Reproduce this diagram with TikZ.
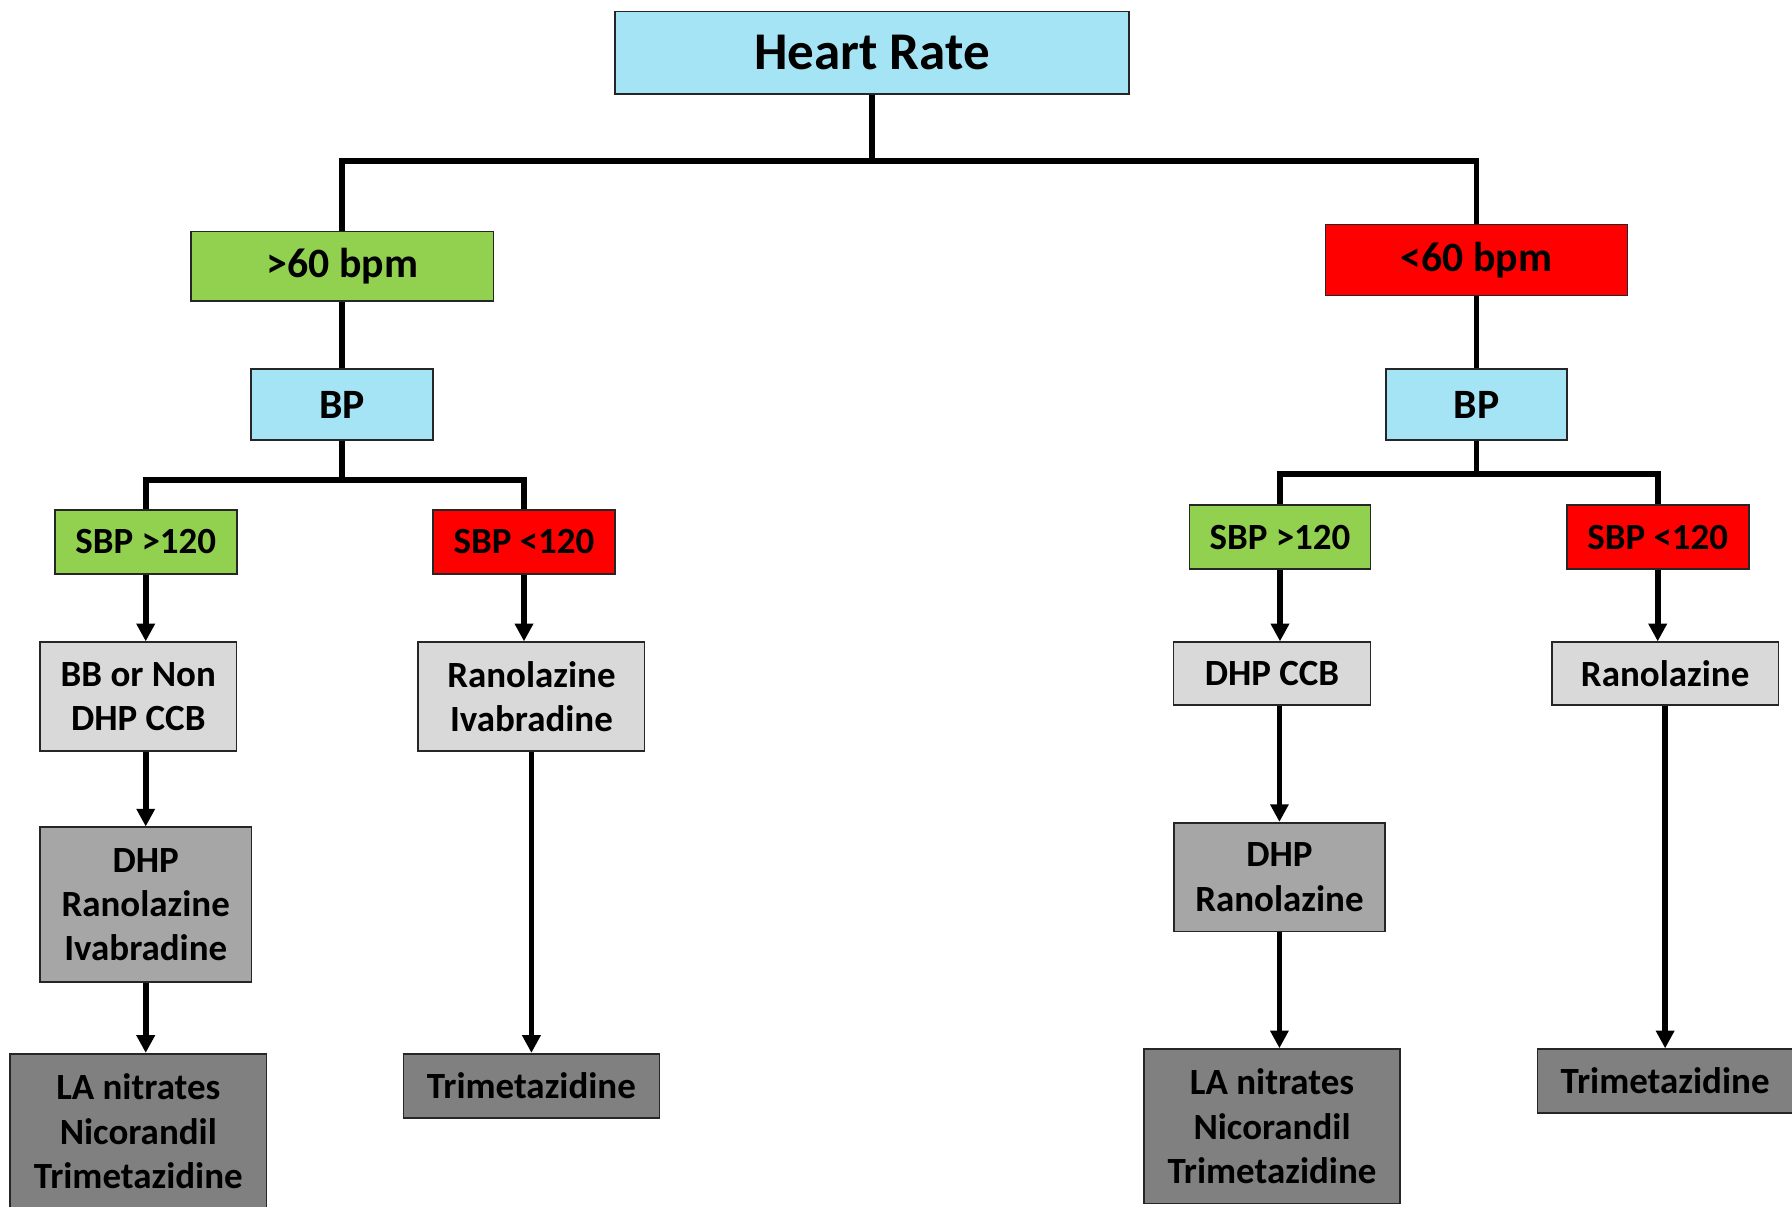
\documentclass[tikz,border=0pt]{standalone}
\usepackage{fontspec}
\setmainfont{Carlito}
\usetikzlibrary{arrows.meta}

\definecolor{azul}{RGB}{165,228,245}
\definecolor{verde}{RGB}{146,208,80}
\definecolor{vermelho}{RGB}{255,0,0}
\definecolor{cinza1}{RGB}{217,217,217}
\definecolor{cinza2}{RGB}{166,166,166}
\definecolor{cinza3}{RGB}{128,128,128}

\begin{document}
\begin{tikzpicture}[
	x=0.0125cm, y=-0.0125cm,
	caixa/.style={draw=black!85, line width=0.5pt, inner sep=0pt, align=center,
		font=\fontsize{11.5}{13.8}\selectfont\bfseries},
	grande/.style={caixa, font=\fontsize{13}{15}\selectfont\bfseries},
	linha/.style={line width=1.75pt},
	seta/.style={line width=1.75pt, -{Triangle[width=5.5pt,length=5.5pt]}}
	]
	\useasboundingbox (0,0) rectangle (1568,1056);

	\node[caixa, fill=azul, minimum width=5.625cm, minimum height=0.9cm,
		font=\fontsize{16.5}{19}\selectfont\bfseries] (hr) at (763,46) {Heart Rate};

	\node[grande, fill=verde, minimum width=3.31cm, minimum height=0.76cm] (hi) at (299.5,233) {>60 bpm};
	\node[grande, fill=vermelho, minimum width=3.3cm, minimum height=0.775cm] (lo) at (1292,227.5) {<60 bpm};

	\node[grande, fill=azul, minimum width=1.99cm, minimum height=0.775cm] (bpL) at (299.5,354) {BP};
	\node[grande, fill=azul, minimum width=1.98cm, minimum height=0.775cm] (bpR) at (1292,354) {BP};

	\node[caixa, fill=verde, minimum width=1.99cm, minimum height=0.7cm] (sbpHiL) at (127.5,474) {SBP >120};
	\node[caixa, fill=vermelho, minimum width=1.99cm, minimum height=0.7cm] (sbpLoL) at (458.5,474) {SBP <120};
	\node[caixa, fill=verde, minimum width=1.98cm, minimum height=0.7cm] (sbpHiR) at (1120,470) {SBP >120};
	\node[caixa, fill=vermelho, minimum width=1.99cm, minimum height=0.7cm] (sbpLoR) at (1450.5,470) {SBP <120};

	% left branch
	\node[caixa, fill=cinza1, minimum width=2.15cm, minimum height=1.19cm] (ccbL) at (121,609.5) {BB or Non\\DHP CCB};
	\node[caixa, fill=cinza1, minimum width=2.475cm, minimum height=1.19cm] (ranL) at (465,609.5) {Ranolazine\\Ivabradine};
	\node[caixa, fill=cinza2, minimum width=2.31cm, minimum height=1.69cm] (dhpL) at (127.5,791.5) {DHP\\Ranolazine\\Ivabradine};
	\node[caixa, fill=cinza3, minimum width=2.8cm, minimum height=1.7cm] (laL) at (121,990) {LA nitrates\\Nicorandil\\Trimetazidine};
	\node[caixa, fill=cinza3, minimum width=2.8cm, minimum height=0.7cm] (triL) at (465,950) {Trimetazidine};

	% right branch
	\node[caixa, fill=cinza1, minimum width=2.15cm, minimum height=0.69cm] (ccbR) at (1113,589.5) {DHP CCB};
	\node[caixa, fill=cinza1, minimum width=2.475cm, minimum height=0.69cm] (ranR) at (1457,589.5) {Ranolazine};
	\node[caixa, fill=cinza2, minimum width=2.31cm, minimum height=1.19cm] (dhpR) at (1119.5,767.5) {DHP\\Ranolazine};
	\node[caixa, fill=cinza3, minimum width=2.8cm, minimum height=1.69cm] (laR) at (1113,985.5) {LA nitrates\\Nicorandil\\Trimetazidine};
	\node[caixa, fill=cinza3, minimum width=2.79cm, minimum height=0.7cm] (triR) at (1457,946) {Trimetazidine};

	\coordinate (ramo) at (763,141);
	\coordinate (ramoL) at (299.5,420);
	\coordinate (ramoR) at (1292,415);

	\draw[linha] (hr.south) -- (ramo);
	\draw[linha] (ramo) -| (hi.north);
	\draw[linha] (ramo) -| (lo.north);
	\draw[linha] (hi.south) -- (bpL.north);
	\draw[linha] (lo.south) -- (bpR.north);

	\draw[linha] (bpL.south) -- (ramoL);
	\draw[linha] (ramoL) -| (sbpHiL.north);
	\draw[linha] (ramoL) -| (sbpLoL.north);
	\draw[linha] (bpR.south) -- (ramoR);
	\draw[linha] (ramoR) -| (sbpHiR.north);
	\draw[linha] (ramoR) -| (sbpLoR.north);

	\draw[seta] (sbpHiL.south) -- (sbpHiL.south |- ccbL.north);
	\draw[seta] (dhpL.north |- ccbL.south) -- (dhpL.north);
	\draw[seta] (dhpL.south) -- (dhpL.south |- laL.north);
	\draw[seta] (sbpLoL.south) -- (sbpLoL.south |- ranL.north);
	\draw[seta] (ranL.south) -- (triL.north);

	\draw[seta] (sbpHiR.south) -- (sbpHiR.south |- ccbR.north);
	\draw[seta] (dhpR.north |- ccbR.south) -- (dhpR.north);
	\draw[seta] (dhpR.south) -- (dhpR.south |- laR.north);
	\draw[seta] (sbpLoR.south) -- (sbpLoR.south |- ranR.north);
	\draw[seta] (ranR.south) -- (triR.north);
\end{tikzpicture}
\end{document}
